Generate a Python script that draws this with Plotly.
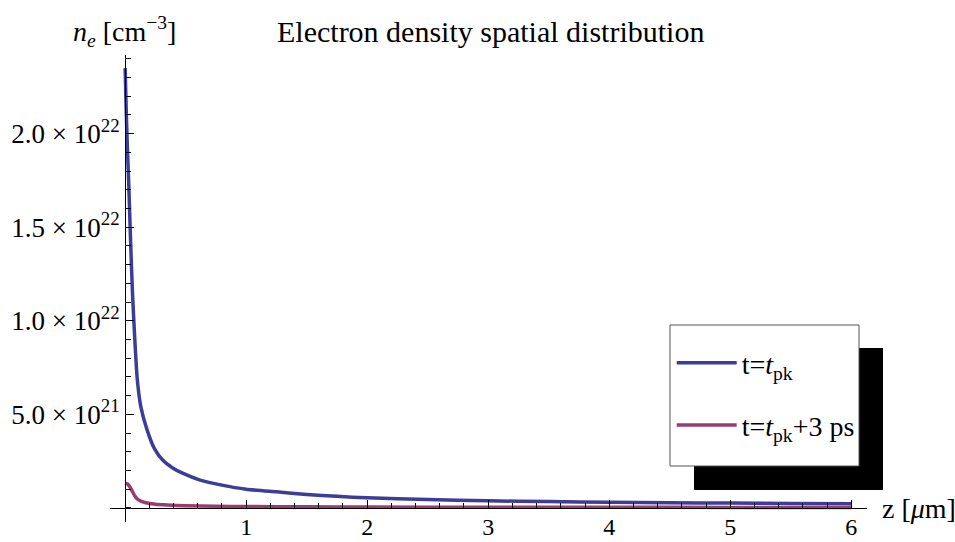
import plotly.graph_objects as go

# ---- data ----
z_tpk = [0, 0.01, 0.02, 0.03, 0.045, 0.06, 0.08, 0.10, 0.13, 0.18, 0.24, 0.31,
         0.39, 0.47, 0.62, 0.8, 1.0, 1.25, 1.5, 1.75, 2.0, 2.5, 3.0, 3.5, 4.0,
         4.5, 5.0, 5.5, 6.0]
ne_tpk = [2.35e22, 2.10e22, 1.90e22, 1.73e22, 1.43e22, 1.16e22, 9.0e21, 6.9e21,
          5.4e21, 4.2e21, 3.2e21, 2.56e21, 2.15e21, 1.87e21, 1.49e21, 1.22e21,
          1.0e21, 0.86e21, 0.72e21, 0.62e21, 0.54e21, 0.45e21, 0.38e21, 0.34e21,
          0.31e21, 0.28e21, 0.26e21, 0.24e21, 0.22e21]

z_tpk3 = [0, 0.02, 0.04, 0.06, 0.08, 0.10, 0.13, 0.17, 0.25, 0.35, 0.5, 0.75,
          1.0, 1.5, 2.0, 3.0, 4.0, 5.0, 6.0]
ne_tpk3 = [1.33e21, 1.28e21, 1.12e21, 0.88e21, 0.64e21, 0.48e21, 0.36e21,
           0.28e21, 0.20e21, 0.16e21, 0.12e21, 0.09e21, 0.08e21, 0.06e21,
           0.05e21, 0.04e21, 0.035e21, 0.03e21, 0.03e21]

x_tickvals = [1, 2, 3, 4, 5, 6]
x_ticktext = ["1", "2", "3", "4", "5", "6"]
y_tickvals = [5e21, 1e22, 1.5e22, 2e22]
y_ticktext = ["5.0 × 10<sup>21</sup>", "1.0 × 10<sup>22</sup>",
              "1.5 × 10<sup>22</sup>", "2.0 × 10<sup>22</sup>"]

series_names = ["t=<i>t</i><sub>pk</sub>", "t=<i>t</i><sub>pk</sub>+3 ps"]
series_colors = ["rgb(61,61,153)", "rgb(153,61,113)"]

FONT = "Liberation Serif, Times New Roman, serif"

xr = [-0.125, 6.13]
yr = [-0.75e21, 24.2e21]

fig = go.Figure()
fig.add_trace(go.Scatter(x=z_tpk, y=ne_tpk, mode="lines", name=series_names[0],
                         legendgroup="a",
                         line=dict(color=series_colors[0], width=3.5, shape="spline", smoothing=0.5)))
fig.add_trace(go.Scatter(x=z_tpk3, y=ne_tpk3, mode="lines", name=series_names[1],
                         legendgroup="b",
                         line=dict(color=series_colors[1], width=3.5, shape="spline", smoothing=0.5)))

xpos = (0 - yr[0]) / (yr[1] - yr[0])
ypos = (0 - xr[0]) / (xr[1] - xr[0])

fig.update_layout(
    width=955, height=542,
    margin=dict(l=110, r=88, t=55, b=20, autoexpand=False),
    paper_bgcolor="white", plot_bgcolor="white",
    font=dict(family=FONT, size=27, color="black"),
    showlegend=True,
    legend=dict(x=0.742, y=0.394, xanchor="left", yanchor="top",
                bgcolor="rgba(0,0,0,0)", borderwidth=0,
                font=dict(family=FONT, size=28, color="black"),
                tracegroupgap=23, itemwidth=60, traceorder="grouped"),
    xaxis=dict(range=xr, anchor="free", position=xpos, automargin=False,
               showline=True, linecolor="black", linewidth=1,
               showgrid=False, zeroline=False,
               tickmode="array", tickvals=x_tickvals, ticktext=x_ticktext,
               ticks="inside", ticklen=8, tickwidth=1, tickcolor="black",
               ticklabelstandoff=-3,
               minor=dict(dtick=0.2, tick0=0, ticks="inside", ticklen=5,
                          tickwidth=1, tickcolor="black", showgrid=False),
               tickfont=dict(family=FONT, size=24)),
    yaxis=dict(range=yr, anchor="free", position=ypos, automargin=False,
               showline=True, linecolor="black", linewidth=1,
               showgrid=False, zeroline=False,
               tickmode="array", tickvals=y_tickvals, ticktext=y_ticktext,
               ticks="inside", ticklen=8, tickwidth=1, tickcolor="black",
               minor=dict(dtick=1e21, tick0=0, ticks="inside", ticklen=5,
                          tickwidth=1, tickcolor="black", showgrid=False),
               tickfont=dict(family=FONT, size=27)),
    shapes=[
        dict(type="rect", xref="paper", yref="paper", layer="above",
             x0=(694 - 110) / 757, x1=(883 - 110) / 757,
             y0=(522 - 490) / 467, y1=(522 - 348) / 467,
             fillcolor="black", line=dict(width=0)),
        dict(type="rect", xref="paper", yref="paper", layer="above",
             x0=(670 - 110) / 757, x1=(859 - 110) / 757,
             y0=(522 - 466) / 467, y1=(522 - 325) / 467,
             fillcolor="white", line=dict(color="#555", width=1)),
    ],
    annotations=[
        dict(text="Electron density spatial distribution", xref="paper", yref="paper",
             x=(490 - 110) / 757, y=1 + (55 - 31) / 467, xanchor="center", yanchor="middle",
             showarrow=False, font=dict(family=FONT, size=30)),
        dict(text="<i>n</i><sub><i>e</i></sub> [cm<sup>−3</sup>]", xref="paper", yref="paper",
             x=(124 - 110) / 757, y=1 + (55 - 31) / 467, xanchor="center", yanchor="middle",
             showarrow=False, font=dict(family=FONT, size=28)),
        dict(text="z [<i>μ</i>m]", xref="paper", yref="paper",
             x=(880 - 110) / 757, y=(522 - 508) / 467, xanchor="left", yanchor="middle",
             showarrow=False, font=dict(family=FONT, size=28)),
    ],
)

fig.write_html("out.html")
